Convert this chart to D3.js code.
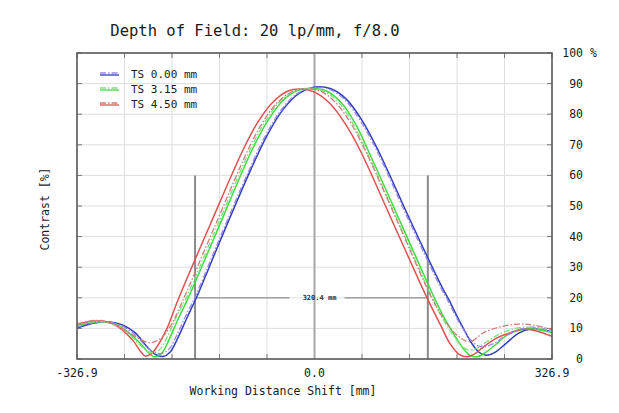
<!DOCTYPE html>
<html><head><meta charset="utf-8">
<script src="https://cdn.jsdelivr.net/npm/d3@7"></script>
<style>html,body{margin:0;padding:0;background:#fff;}svg{display:block;}</style>
</head><body>
<svg id="chart" width="619" height="413"></svg>
<script>
// ---- data (x in mm, y in % contrast) ----
const title = "Depth of Field: 20 lp/mm, f/8.0";
const xTickValues = [-326.9, 0, 326.9];
const xTickLabels = ["-326.9", "0.0", "326.9"];
const yTickValues = [0,10,20,30,40,50,60,70,80,90,100];
const yTickLabels = ["0","10","20","30","40","50","60","70","80","90","100"];
const legendLabels = ["TS 0.00 mm", "TS 3.15 mm", "TS 4.50 mm"];
const dofMarkers = [-164.4, 156.0];
const dofLevelTop = 60;
const dofLevel = 20;
const dofLabel = "320.4 mm";

const ts000Solid = [[-326.9,10.1],[-306.3,11.6],[-285.6,12.2],[-265.0,11.2],[-247.1,8.6],[-230.5,4.0],[-218.2,1.4],[-208.5,0.8],[-198.9,2.2],[-187.9,7.0],[-175.5,13.5],[-161.7,20.5],[-130.1,38.5],[-88.8,61.3],[-65.4,73.0],[-43.4,81.5],[-21.3,86.8],[2.1,88.9],[22.7,88.3],[43.4,85.0],[65.4,78.0],[87.4,68.3],[131.4,45.5],[175.5,23.5],[185.1,19.3],[196.1,14.0],[207.1,9.0],[216.8,5.0],[226.4,2.2],[236.1,1.2],[247.1,2.0],[262.2,4.8],[280.1,8.3],[296.6,9.8],[311.7,9.6],[326.9,8.9]];
const ts000Dash = [[-326.9,10.4],[-306.3,11.8],[-285.6,12.1],[-265.0,10.8],[-247.1,8.0],[-230.5,3.8],[-219.5,2.0],[-210.0,1.8],[-200.0,3.3],[-189.5,7.8],[-177.5,14.0],[-164.0,20.5],[-132.2,38.5],[-90.9,61.3],[-67.5,73.0],[-45.5,81.5],[-23.4,86.8],[0.0,88.7],[20.6,88.1],[41.3,84.8],[63.3,77.8],[85.3,68.3],[129.3,45.5],[173.4,23.5],[183.0,19.3],[194.0,14.2],[205.0,9.6],[215.0,6.2],[225.0,4.3],[235.0,4.0],[246.0,5.0],[262.0,7.4],[280.0,9.5],[296.6,10.4],[311.7,10.1],[326.9,9.3]];
const ts315Solid = [[-326.9,11.0],[-309.0,11.8],[-291.2,12.1],[-273.2,11.3],[-256.7,8.8],[-237.4,4.5],[-226.4,1.5],[-219.5,0.7],[-209.9,2.0],[-198.9,7.0],[-187.9,13.0],[-174.1,19.8],[-137.0,40.2],[-86.0,68.3],[-64.0,78.0],[-43.4,84.5],[-22.7,87.8],[-3.4,88.5],[17.2,87.5],[37.9,83.5],[57.1,76.5],[73.6,68.3],[120.4,43.6],[143.8,31.1],[165.9,19.5],[179.6,13.0],[193.4,7.5],[204.4,3.5],[214.0,1.2],[223.7,0.7],[233.3,1.8],[248.4,4.5],[265.0,7.8],[289.7,9.8],[310.4,9.5],[326.9,8.6]];
const ts315Dash = [[-326.9,11.3],[-309.0,12.1],[-291.2,12.2],[-273.2,11.0],[-256.7,8.3],[-240.2,4.6],[-229.0,2.4],[-221.0,2.0],[-212.0,3.4],[-201.0,8.0],[-190.0,13.8],[-176.9,19.8],[-139.8,40.2],[-88.8,68.3],[-66.8,78.0],[-46.2,84.5],[-25.5,87.8],[-6.2,88.3],[14.4,87.3],[35.1,83.3],[54.3,76.3],[70.8,68.3],[117.6,43.6],[163.1,19.5],[176.9,13.0],[190.6,7.8],[201.6,4.5],[211.3,3.0],[221.0,3.2],[231.0,4.6],[246.0,7.0],[265.0,9.2],[287.0,10.4],[310.4,9.9],[326.9,8.9]];
const ts450Solid = [[-326.9,11.2],[-311.8,12.2],[-295.3,12.4],[-278.7,11.6],[-265.0,9.6],[-249.8,6.0],[-238.8,2.3],[-233.3,1.0],[-225.0,1.6],[-215.4,4.5],[-203.0,10.0],[-187.9,19.3],[-143.8,43.8],[-98.4,68.3],[-77.8,77.5],[-57.1,84.0],[-36.5,87.6],[-20.0,88.2],[-0.7,87.3],[21.3,83.5],[42.0,77.0],[62.6,68.3],[109.4,43.8],[156.2,19.3],[172.7,11.5],[186.5,5.0],[199.0,1.5],[209.9,0.7],[219.5,1.5],[231.9,3.8],[251.2,6.9],[271.8,8.8],[287.0,9.8],[307.6,9.0],[326.9,7.4]];
const ts450Dash = [[-326.9,11.5],[-302.2,12.6],[-281.5,12.0],[-260.9,9.5],[-240.2,6.5],[-226.4,5.3],[-212.7,6.6],[-198.9,10.5],[-181.0,19.3],[-137.0,43.5],[-91.6,68.3],[-70.9,77.5],[-50.2,84.0],[-29.6,87.5],[-11.7,88.3],[7.6,87.6],[28.2,84.0],[48.9,77.5],[69.5,68.3],[116.3,43.8],[161.7,19.8],[179.6,12.5],[197.5,7.5],[214.0,5.6],[231.9,8.5],[255.3,10.5],[280.1,11.4],[300.7,11.1],[326.9,9.6]];

const solidSeries = [ts000Solid, ts315Solid, ts450Solid];
const dashSeries = [ts000Dash, ts315Dash, ts450Dash];
const solidColors = ["#2f3fbf", "#3fdc3f", "#e05050"];
const dashColors = ["#9a86e6", "#7ee07e", "#cf7a7a"];

// ---- layout ----
const svg = d3.select("#chart");
const M = {left: 77, right: 552, top: 53, bottom: 359};
const x = d3.scaleLinear().domain([-326.9, 326.9]).range([M.left, M.right]);
const y = d3.scaleLinear().domain([0, 100]).range([M.bottom, M.top]);
const mono = "'DejaVu Sans Mono', 'Liberation Mono', monospace";

// grid
const xGrid = d3.range(11).map(i => -326.9 + i * 65.38);
svg.append("g").selectAll("line").data(xGrid).join("line")
  .attr("x1", d => x(d)).attr("x2", d => x(d))
  .attr("y1", M.top).attr("y2", M.bottom)
  .attr("stroke", "#dedede").attr("stroke-width", 1);
svg.append("g").selectAll("line").data(yTickValues).join("line")
  .attr("x1", M.left).attr("x2", M.right)
  .attr("y1", d => y(d)).attr("y2", d => y(d))
  .attr("stroke", "#dedede").attr("stroke-width", 1);

// inward ticks on all sides
const tickG = svg.append("g").attr("stroke", "#777").attr("stroke-width", 1);
xGrid.forEach(v => {
  tickG.append("line").attr("x1", x(v)).attr("x2", x(v)).attr("y1", M.top).attr("y2", M.top + 5);
  tickG.append("line").attr("x1", x(v)).attr("x2", x(v)).attr("y1", M.bottom).attr("y2", M.bottom - 5);
});
yTickValues.forEach(v => {
  tickG.append("line").attr("x1", M.left).attr("x2", M.left + 5).attr("y1", y(v)).attr("y2", y(v));
  tickG.append("line").attr("x1", M.right).attr("x2", M.right - 5).attr("y1", y(v)).attr("y2", y(v));
});

// center line
svg.append("line").attr("x1", x(0)).attr("x2", x(0)).attr("y1", M.top).attr("y2", M.bottom)
  .attr("stroke", "#a8a8a8").attr("stroke-width", 2);

// DOF markers
dofMarkers.forEach(m => {
  svg.append("line").attr("x1", x(m)).attr("x2", x(m)).attr("y1", y(dofLevelTop)).attr("y2", M.bottom)
    .attr("stroke", "#8a8a8a").attr("stroke-width", 2);
});
const midX = x(0) + 5;
svg.append("line").attr("x1", x(dofMarkers[0])).attr("x2", midX - 30).attr("y1", y(dofLevel)).attr("y2", y(dofLevel))
  .attr("stroke", "#a0a0a0").attr("stroke-width", 1.5);
svg.append("line").attr("x1", midX + 25).attr("x2", x(dofMarkers[1])).attr("y1", y(dofLevel)).attr("y2", y(dofLevel))
  .attr("stroke", "#a0a0a0").attr("stroke-width", 1.5);
svg.append("text").attr("x", midX).attr("y", y(dofLevel) + 2.5)
  .attr("text-anchor", "middle").attr("font-family", mono).attr("font-size", 7).attr("font-weight", "bold")
  .attr("fill", "#333").text(dofLabel);

// curves
svg.append("clipPath").attr("id", "clip").append("rect")
  .attr("x", M.left).attr("y", M.top).attr("width", M.right - M.left).attr("height", M.bottom - M.top);
const line = d3.line().x(d => x(d[0])).y(d => y(d[1])).curve(d3.curveCatmullRom.alpha(0.5));
const curvesG = svg.append("g").attr("clip-path", "url(#clip)");
solidSeries.forEach((s, i) => {
  curvesG.append("path").datum(s).attr("d", line).attr("fill", "none")
    .attr("stroke", solidColors[i]).attr("stroke-width", 1.5);
});
dashSeries.forEach((s, i) => {
  curvesG.append("path").datum(s).attr("d", line).attr("fill", "none")
    .attr("stroke", dashColors[i]).attr("stroke-width", 1.3).attr("stroke-dasharray", "6,2,1.5,2");
});

// frame
svg.append("rect").attr("x", M.left).attr("y", M.top).attr("width", M.right - M.left).attr("height", M.bottom - M.top)
  .attr("fill", "none").attr("stroke", "#5a5a5a").attr("stroke-width", 1.6);

// title
svg.append("text").attr("x", 255).attr("y", 36).attr("text-anchor", "middle")
  .attr("font-family", mono).attr("font-size", 15.5).attr("fill", "#1a1a1a").text(title);

// right axis labels
yTickValues.forEach((v, i) => {
  svg.append("text").attr("x", 583).attr("y", y(v) + 4).attr("text-anchor", "end")
    .attr("font-family", mono).attr("font-size", 11.5).attr("fill", "#1a1a1a").text(yTickLabels[i]);
});
svg.append("text").attr("x", 590).attr("y", y(100) + 4)
  .attr("font-family", mono).attr("font-size", 11.5).attr("fill", "#1a1a1a").text("%");

// x tick labels
xTickValues.forEach((v, i) => {
  svg.append("text").attr("x", x(v)).attr("y", 377).attr("text-anchor", "middle")
    .attr("font-family", mono).attr("font-size", 11.5).attr("fill", "#1a1a1a").text(xTickLabels[i]);
});

// axis titles
svg.append("text").attr("x", 283).attr("y", 395).attr("text-anchor", "middle")
  .attr("font-family", mono).attr("font-size", 11.5).attr("fill", "#1a1a1a").text("Working Distance Shift [mm]");
svg.append("text").attr("transform", "translate(49,209) rotate(-90)").attr("text-anchor", "middle")
  .attr("font-family", mono).attr("font-size", 11.5).attr("fill", "#1a1a1a").text("Contrast [%]");

// legend
legendLabels.forEach((lab, i) => {
  const ly = 74 + i * 15;
  svg.append("line").attr("x1", 100).attr("x2", 119).attr("y1", ly + 1).attr("y2", ly + 1)
    .attr("stroke", solidColors[i]).attr("stroke-width", 1.3);
  svg.append("line").attr("x1", 100).attr("x2", 119).attr("y1", ly - 1).attr("y2", ly - 1)
    .attr("stroke", dashColors[i]).attr("stroke-width", 1.3).attr("stroke-dasharray", "6,2,1.5,2");
  svg.append("text").attr("x", 131).attr("y", ly + 4)
    .attr("font-family", mono).attr("font-size", 11).attr("fill", "#1a1a1a").text(lab);
});
</script>
</body></html>
